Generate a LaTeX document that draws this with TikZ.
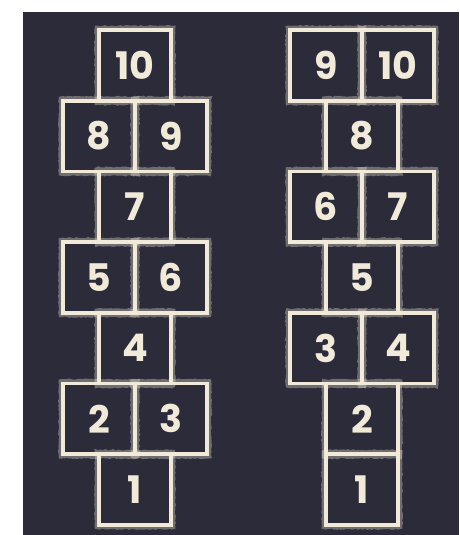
\documentclass[tikz,border=0pt]{standalone}
\usepackage{fontspec}
\setmainfont{Poppins}
\usepackage{xcolor}
\usetikzlibrary{decorations.pathmorphing}

\definecolor{board}{HTML}{2C2B3A}
\definecolor{chalk}{HTML}{F1EAD8}

\begin{document}
\begin{tikzpicture}[
  x=1pt, y=-1pt,
  every node/.style={font=\fontsize{38}{38}\selectfont\bfseries, text=chalk},
  cell/.style={rectangle, draw=chalk, line width=3.6pt, inner sep=0pt,
               minimum width=72pt, minimum height=70.7pt},
  fuzz/.style={draw=chalk, line width=5pt, draw opacity=0.35,
               decorate, decoration={random steps, segment length=2pt, amplitude=0.6pt}}
]
%% board
\fill[white] (0,0) rectangle (459,535);
\fill[board] (23,12) rectangle (459,535);

%% left grid
\node[cell] (l1)  at (135,489.55) {1};
\node[cell] (l2)  at (99,418.85)  {2};
\node[cell] (l3)  at (171,418.85) {3};
\node[cell] (l4)  at (135,348.15) {4};
\node[cell] (l5)  at (99,277.45)  {5};
\node[cell] (l6)  at (171,277.45) {6};
\node[cell] (l7)  at (135,206.75) {7};
\node[cell] (l8)  at (99,136.05)  {8};
\node[cell] (l9)  at (171,136.05) {9};
\node[cell] (l10) at (135,65.35)  {10};

%% right grid
\node[cell] (r1)  at (362,489.55) {1};
\node[cell] (r2)  at (362,418.85) {2};
\node[cell] (r3)  at (326,348.15) {3};
\node[cell] (r4)  at (398,348.15) {4};
\node[cell] (r5)  at (362,277.45) {5};
\node[cell] (r6)  at (326,206.75) {6};
\node[cell] (r7)  at (398,206.75) {7};
\node[cell] (r8)  at (362,136.05) {8};
\node[cell] (r9)  at (326,65.35)  {9};
\node[cell] (r10) at (398,65.35)  {10};

%% chalk dust round the lines
\foreach \c in {l1,l2,l3,l4,l5,l6,l7,l8,l9,l10,r1,r2,r3,r4,r5,r6,r7,r8,r9,r10}
  \draw[fuzz] (\c.north west) rectangle (\c.south east);
\end{tikzpicture}
\end{document}
